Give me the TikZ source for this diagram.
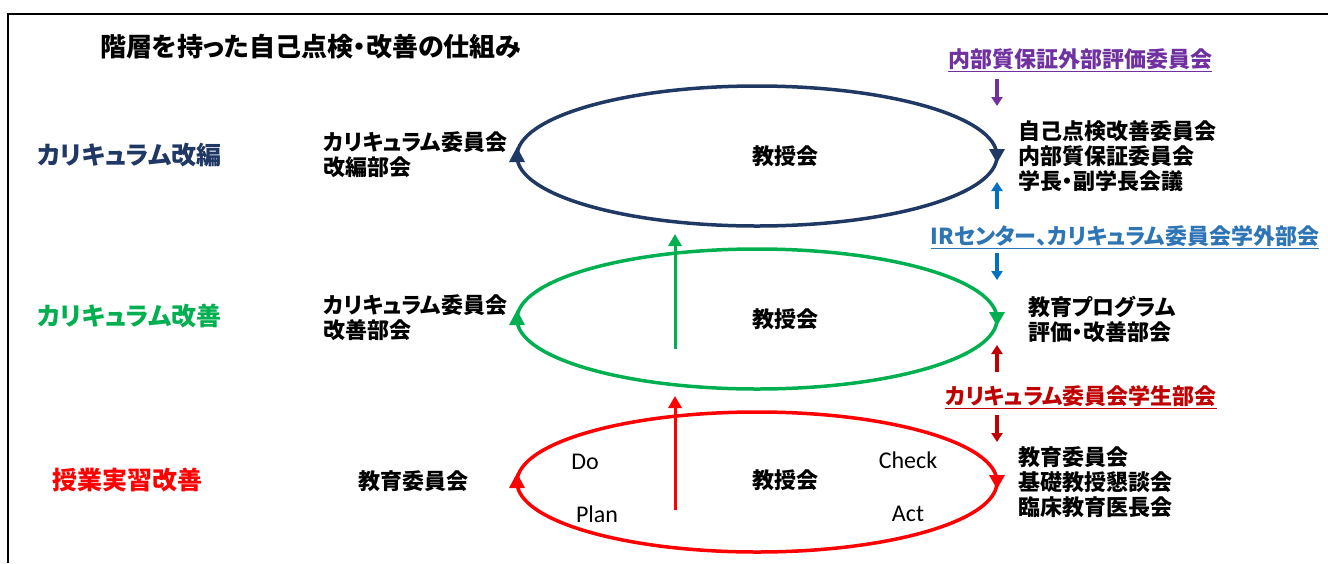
\documentclass[tikz,border=0pt]{standalone}
\usepackage{fontspec}
\setmainfont{Noto Sans CJK JP}[RawFeature=+palt]
\newfontfamily\lat{Carlito}
\usetikzlibrary{arrows.meta,shapes.geometric}
\definecolor{navyc}{HTML}{1F3864}
\definecolor{greenc}{HTML}{00B050}
\definecolor{redc}{HTML}{FF0000}
\definecolor{purplec}{HTML}{7030A0}
\definecolor{bluec}{HTML}{2E75B6}
\definecolor{arrblue}{HTML}{0070C0}
\definecolor{darkredc}{HTML}{C00000}
\tikzset{
  lbl/.style={inner sep=0pt, font=\bfseries\fontsize{22}{25}\selectfont, align=left},
  big/.style={inner sep=0pt, font=\bfseries\fontsize{25}{28}\selectfont},
  pdca/.style={inner sep=0pt, font=\lat\fontsize{24}{26}\selectfont},
  loop/.style={ellipse, draw, line width=3.5pt, inner sep=0pt, outer sep=0pt, minimum width=480pt, minimum height=140pt},
  uparr/.style={line width=3pt, -{Triangle[width=13pt,length=12pt]}},
  sidearr/.style={line width=4pt, -{Triangle[width=11pt,length=9pt]}},
}
\newcommand\triup[2]{\fill[#1] ([shift={(-8,6)}]#2) -- ([shift={(8,6)}]#2) -- ([shift={(0,-9)}]#2) -- cycle;}
\newcommand\tridown[2]{\fill[#1] ([shift={(-8,-7)}]#2) -- ([shift={(8,-7)}]#2) -- ([shift={(0,7)}]#2) -- cycle;}
\begin{document}
\begin{tikzpicture}[x=1pt,y=-1pt]
\useasboundingbox (0,0) rectangle (1328,563);
\fill[white] (0,0) rectangle (1328,563);
% frame
\coordinate (fbl) at (8,563);
\coordinate (ftl) at (8,14);
\coordinate (ftr) at (1328,14);
\draw[line width=1.5pt] (fbl) -- (ftl) -- (ftr);
% title
\node[inner sep=0pt, anchor=west, font=\bfseries\fontsize{26}{28}\selectfont] (title) at (100,47) {階層を持った自己点検・改善の仕組み};
% left labels
\node[big, anchor=west, text=navyc] (l1) at (37,155) {カリキュラム改編};
\node[big, anchor=west, text=greenc] (l2) at (37,316) {カリキュラム改善};
\node[big, anchor=west, text=redc] (l3) at (52,480) {授業実習改善};
% loops
\node[loop, draw=navyc] (e1) at (757,156) {};
\node[loop, draw=greenc] (e2) at (757,319) {};
\node[loop, draw=redc] (e3) at (757,482) {};
\triup{navyc}{e1.west}
\tridown{navyc}{e1.east}
\triup{greenc}{e2.west}
\tridown{greenc}{e2.east}
\triup{redc}{e3.west}
\tridown{redc}{e3.east}
% centre texts
\node[lbl] (c1) at (785,156) {教授会};
\node[lbl] (c2) at (785,319) {教授会};
\node[lbl] (c3) at (785,480) {教授会};
% PDCA
\node[pdca] (do) at (585,462) {Do};
\node[pdca] (check) at (908,460) {Check};
\node[pdca] (plan) at (597,514) {Plan};
\node[pdca] (act) at (908,514) {Act};
% vertical arrows
\coordinate (ga) at (675,349);
\coordinate (gb) at (675,234);
\draw[uparr, greenc] (ga) -- (gb);
\coordinate (ra) at (675,510);
\coordinate (rb) at (675,396);
\draw[uparr, redc] (ra) -- (rb);
% mid-left labels
\node[lbl, anchor=west] (m1) at (323,155) {カリキュラム委員会\\改編部会};
\node[lbl, anchor=west] (m2) at (323,318) {カリキュラム委員会\\改善部会};
\node[lbl, anchor=west] (m3) at (358,481) {教育委員会};
% right labels
\node[lbl, anchor=west] (r1) at (1018,156) {自己点検改善委員会\\内部質保証委員会\\学長・副学長会議};
\node[lbl, anchor=west] (r2) at (1028,319) {教育プログラム\\評価・改善部会};
\node[lbl, anchor=west] (r3) at (1018,482) {教育委員会\\基礎教授懇談会\\臨床教育医長会};
% underlined labels
\node[lbl, text=purplec] (u1) at (1080,59) {内部質保証外部評価委員会};
\draw[purplec, line width=1pt] ([yshift=-4pt]u1.base west) -- ([yshift=-4pt]u1.base east);
\node[lbl, text=bluec] (u2) at (1125,236) {IRセンター、カリキュラム委員会学外部会};
\draw[bluec, line width=1pt] ([yshift=-4pt]u2.base west) -- ([yshift=-4pt]u2.base east);
\node[lbl, text=darkredc] (u3) at (1081,396) {カリキュラム委員会学生部会};
\draw[darkredc, line width=1pt] ([yshift=-4pt]u3.base west) -- ([yshift=-4pt]u3.base east);
% side arrows
\coordinate (pa) at (997,79);
\coordinate (pb) at (997,106);
\draw[sidearr, purplec] (pa) -- (pb);
\coordinate (ba) at (997,209);
\coordinate (bb) at (997,182);
\draw[sidearr, arrblue] (ba) -- (bb);
\coordinate (bc) at (997,253);
\coordinate (bd) at (997,280);
\draw[sidearr, arrblue] (bc) -- (bd);
\coordinate (da) at (997,372);
\coordinate (db) at (997,345);
\draw[sidearr, darkredc] (da) -- (db);
\coordinate (dc) at (997,415);
\coordinate (dd) at (997,442);
\draw[sidearr, darkredc] (dc) -- (dd);
\end{tikzpicture}
\end{document}
